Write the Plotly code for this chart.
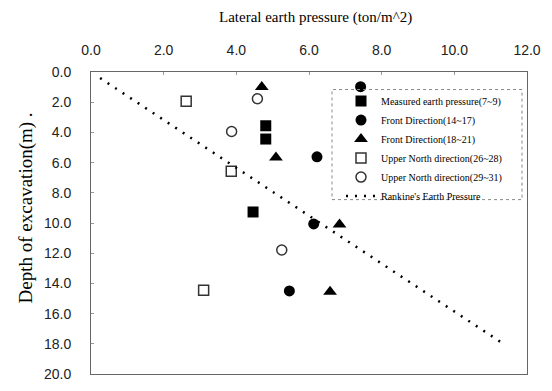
import plotly.graph_objects as go

# Data (x: lateral earth pressure ton/m^2, y: depth m)
meas_x = [4.81, 4.81, 4.46]
meas_y = [3.56, 4.44, 9.27]
front1_x = [7.42, 6.22, 6.13, 5.46]
front1_y = [0.97, 5.62, 10.06, 14.50]
front2_x = [4.70, 5.09, 6.84, 6.58]
front2_y = [1.00, 5.67, 10.10, 14.55]
north1_x = [2.62, 3.86, 3.10]
north1_y = [1.94, 6.57, 14.46]
north2_x = [4.58, 3.87, 5.25]
north2_y = [1.77, 3.94, 11.79]
rankine_x = [0.25, 11.35]
rankine_y = [0.40, 18.00]

names = ["Measured earth pressure(7~9)", "Front Direction(14~17)", "Front Direction(18~21)",
         "Upper North direction(26~28)", "Upper North direction(29~31)", "Rankine's Earth Pressure"]

fig = go.Figure()
fig.add_trace(go.Scatter(x=meas_x, y=meas_y, mode="markers", name=names[0],
                         marker=dict(symbol="square", size=11, color="black")))
fig.add_trace(go.Scatter(x=front1_x, y=front1_y, mode="markers", name=names[1],
                         marker=dict(symbol="circle", size=11, color="black")))
fig.add_trace(go.Scatter(x=front2_x, y=front2_y, mode="markers", name=names[2],
                         marker=dict(symbol="triangle-up", size=12, color="black")))
fig.add_trace(go.Scatter(x=north1_x, y=north1_y, mode="markers", name=names[3],
                         marker=dict(symbol="square-open", size=10, color="#333",
                                     line=dict(width=1.5))))
fig.add_trace(go.Scatter(x=north2_x, y=north2_y, mode="markers", name=names[4],
                         marker=dict(symbol="circle-open", size=10, color="#333",
                                     line=dict(width=1.5))))
fig.add_trace(go.Scatter(x=rankine_x, y=rankine_y, mode="lines", name=names[5],
                         line=dict(color="black", width=2.5, dash="2px,7px")))

L, R, T, B = 91, 25, 72, 9
W, H = 552, 391
pw = W - L - R
ph = H - T - B

def px2paper_x(px):
    return (px - L) / pw

def px2paper_y(py):
    return 1 - (py - T) / ph

fig.update_layout(
    width=W, height=H,
    margin=dict(l=L, r=R, t=T, b=B),
    paper_bgcolor="white", plot_bgcolor="white",
    showlegend=True,
    legend=dict(x=px2paper_x(341), y=px2paper_y(87), xanchor="left", yanchor="top",
                bgcolor="rgba(0,0,0,0)", borderwidth=0,
                font=dict(family="Liberation Serif", size=10, color="black"),
                tracegroupgap=0),
    xaxis=dict(range=[0, 12], side="top", tickvals=[0, 2, 4, 6, 8, 10, 12],
               tickformat=".1f", showgrid=False, zeroline=False,
               showline=True, linecolor="#666", linewidth=1, mirror=True,
               ticks="inside", ticklen=3, tickcolor="#999",
               tickfont=dict(family="Liberation Sans", size=14, color="#222"),
               ticklabelstandoff=10),
    yaxis=dict(range=[20, 0], tickvals=[0, 2, 4, 6, 8, 10, 12, 14, 16, 18, 20],
               tickformat=".1f", showgrid=False, zeroline=False,
               showline=True, linecolor="#666", linewidth=1, mirror=True,
               ticks="inside", ticklen=3, tickcolor="#999",
               tickfont=dict(family="Liberation Sans", size=14, color="#222"),
               ticklabelstandoff=16),
    annotations=[
        dict(text="Lateral earth pressure (ton/m^2)", x=px2paper_x(315), y=px2paper_y(16),
             xref="paper", yref="paper", showarrow=False, xanchor="center", yanchor="middle",
             font=dict(family="Liberation Serif", size=15, color="black")),
        dict(text="Depth of excavation(m) .", x=px2paper_x(26), y=px2paper_y(212),
             xref="paper", yref="paper", showarrow=False, xanchor="center", yanchor="middle",
             textangle=-90, font=dict(family="Liberation Serif", size=19, color="black")),
    ],
    shapes=[
        dict(type="rect", xref="paper", yref="paper",
             x0=px2paper_x(332), x1=px2paper_x(522), y0=px2paper_y(203), y1=px2paper_y(90),
             line=dict(color="#888", width=1, dash="dot")),
    ],
)

fig.write_html("out.html")
